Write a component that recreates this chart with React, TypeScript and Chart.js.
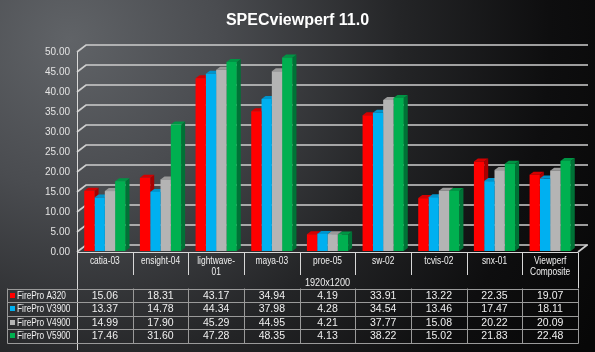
import React, { useEffect, useRef } from "react";
import { Chart, registerables } from "chart.js";

Chart.register(...registerables);

const TITLE = "SPECviewperf 11.0";
const AXIS_TITLE = "1920x1200";
const categories: (string | string[])[] = [
  "catia-03",
  "ensight-04",
  ["lightwave-", "01"],
  "maya-03",
  "proe-05",
  "sw-02",
  "tcvis-02",
  "snx-01",
  ["Viewperf", "Composite"],
];
const seriesNames = ["FirePro A320", "FirePro V3900", "FirePro V4900", "FirePro V5900"];
const a320 = [15.06, 18.31, 43.17, 34.94, 4.19, 33.91, 13.22, 22.35, 19.07];
const v3900 = [13.37, 14.78, 44.34, 37.98, 4.28, 34.54, 13.46, 17.47, 18.11];
const v4900 = [14.99, 17.9, 45.29, 44.95, 4.21, 37.77, 15.08, 20.22, 20.09];
const v5900 = [17.46, 31.6, 47.28, 48.35, 4.13, 38.22, 15.02, 21.83, 22.48];
const yMin = 0;
const yMax = 50;
const yStep = 5;

const seriesData = [a320, v3900, v4900, v5900];
const frontColors = ["#ff0000", "#00b0f0", "#b4b4b4", "#00b050"];
const sideColors = ["#a80000", "#0078a8", "#7c7c7c", "#007236"];
const topColors = ["#d40000", "#0094cc", "#9a9a9a", "#009444"];

const REG = "'Liberation Sans', Arial, sans-serif";

const DEPTH_X = 9;
const DEPTH_Y = 7;
const BAR_DX = 4;
const BAR_DY = 3;

function narrowText(ctx: CanvasRenderingContext2D, s: string, x: number, y: number, f: number) {
  const w = ctx.measureText(s).width;
  ctx.fillText(s, x, y, w * f);
}

const customPlugin = {
  id: "excel3d",
  beforeDraw(chart: any) {
    const { ctx, width, height } = chart;
    ctx.save();
    const g = ctx.createRadialGradient(70, 40, 0, 70, 40, 600);
    g.addColorStop(0, "#606367");
    g.addColorStop(0.25, "#4a4c50");
    g.addColorStop(0.55, "#242527");
    g.addColorStop(0.8, "#0e0e0f");
    g.addColorStop(1, "#070707");
    ctx.fillStyle = g;
    ctx.fillRect(0, 0, width, height);
    ctx.fillStyle = "#ffffff";
    ctx.font = `bold 16px ${REG}`;
    ctx.textAlign = "center";
    ctx.textBaseline = "middle";
    ctx.fillText(TITLE, width / 2, 21);
    ctx.restore();
  },
  beforeDatasetsDraw(chart: any) {
    const { ctx, chartArea } = chart;
    const y = chart.scales.y;
    const left = chartArea.left;
    const right = chartArea.right;
    ctx.save();
    ctx.strokeStyle = "#cdcdcd";
    ctx.lineWidth = 1.7;
    y.ticks.forEach((t: any) => {
      const yf = y.getPixelForValue(t.value) + 1;
      ctx.beginPath();
      ctx.moveTo(left, yf);
      ctx.lineTo(left + DEPTH_X, yf - DEPTH_Y);
      ctx.lineTo(right + DEPTH_X + 1, yf - DEPTH_Y);
      ctx.stroke();
    });
    const y0 = y.getPixelForValue(yMin) + 1;
    ctx.beginPath();
    ctx.moveTo(right, y0);
    ctx.lineTo(right + DEPTH_X, y0 - DEPTH_Y);
    ctx.stroke();
    ctx.lineWidth = 1;
    ctx.strokeStyle = "#d8d8d8";
    ctx.beginPath();
    ctx.moveTo(left + 0.5, y.getPixelForValue(yMax) + 1);
    ctx.lineTo(left + 0.5, 350);
    ctx.stroke();

    chart.data.datasets.forEach((ds: any, di: number) => {
      const meta = chart.getDatasetMeta(di);
      meta.data.forEach((el: any) => {
        const p = el.getProps(["x", "y", "base", "width"], true);
        const l = p.x - p.width / 2;
        const r = p.x + p.width / 2;
        ctx.fillStyle = sideColors[di];
        ctx.beginPath();
        ctx.moveTo(r, p.y);
        ctx.lineTo(r + BAR_DX, p.y - BAR_DY);
        ctx.lineTo(r + BAR_DX, p.base - BAR_DY);
        ctx.lineTo(r, p.base);
        ctx.closePath();
        ctx.fill();
        ctx.fillStyle = topColors[di];
        ctx.beginPath();
        ctx.moveTo(l, p.y);
        ctx.lineTo(l + BAR_DX, p.y - BAR_DY);
        ctx.lineTo(r + BAR_DX, p.y - BAR_DY);
        ctx.lineTo(r, p.y);
        ctx.closePath();
        ctx.fill();
      });
    });
    ctx.restore();
  },
  afterDatasetsDraw(chart: any) {
    const { ctx, chartArea } = chart;
    const y = chart.scales.y;
    const x = chart.scales.x;
    const left = chartArea.left;
    const right = chartArea.right;
    const n = categories.length;
    const colW = (right - left) / n;
    ctx.save();

    ctx.fillStyle = "#e4e4e4";
    ctx.font = `10px ${REG}`;
    ctx.textAlign = "right";
    ctx.textBaseline = "middle";
    y.ticks.forEach((t: any) => {
      ctx.fillText(t.value.toFixed(2), left - 7, y.getPixelForValue(t.value) + 1);
    });

    const hTop = Math.round(y.getPixelForValue(yMin)) + 1.5;
    const hBottom = 275;
    ctx.strokeStyle = "#d8d8d8";
    ctx.lineWidth = 1;
    ctx.beginPath();
    ctx.moveTo(left, hTop);
    ctx.lineTo(right, hTop);
    ctx.stroke();
    for (let i = 1; i < n; i++) {
      const bx = Math.round(left + i * colW) + 0.5;
      ctx.beginPath();
      ctx.moveTo(bx, hTop);
      ctx.lineTo(bx, hBottom);
      ctx.stroke();
    }
    ctx.beginPath();
    ctx.moveTo(Math.round(right) + 0.5, hTop);
    ctx.lineTo(Math.round(right) + 0.5, 288);
    ctx.stroke();

    ctx.fillStyle = "#f0f0f0";
    ctx.font = `10.5px ${REG}`;
    ctx.textAlign = "center";
    ctx.textBaseline = "middle";
    categories.forEach((c, i) => {
      const cx = x.getPixelForValue(i);
      const lines = Array.isArray(c) ? c : [c];
      lines.forEach((ln, k) => narrowText(ctx, ln, cx, 261 + k * 11.5, 0.8));
    });
    narrowText(ctx, AXIS_TITLE, (left + right) / 2, 283, 0.87);

    const rTop = 288.5;
    const rH = 13.5;
    const lLeft = 7.5;
    ctx.strokeStyle = "#9a9a9a";
    for (let r = 0; r <= seriesNames.length; r++) {
      const yy = Math.round(rTop + r * rH) + 0.5;
      ctx.beginPath();
      ctx.moveTo(lLeft, yy);
      ctx.lineTo(Math.round(right) + 0.5, yy);
      ctx.stroke();
    }
    const tBottom = Math.round(rTop + seriesNames.length * rH) + 0.5;
    const vlines = [lLeft];
    for (let i = 1; i <= n; i++) vlines.push(Math.round(left + i * colW) + 0.5);
    vlines.forEach((vx) => {
      ctx.beginPath();
      ctx.moveTo(vx, rTop);
      ctx.lineTo(vx, tBottom);
      ctx.stroke();
    });

    seriesNames.forEach((name, r) => {
      const cy = rTop + r * rH + rH / 2 + 0.5;
      ctx.fillStyle = frontColors[r];
      ctx.fillRect(10, Math.round(cy) - 3, 5, 5);
      ctx.fillStyle = "#f0f0f0";
      ctx.font = `10.5px ${REG}`;
      ctx.textAlign = "left";
      narrowText(ctx, name, 17, cy, 0.79);
      ctx.font = `10.5px ${REG}`;
      ctx.textAlign = "center";
      seriesData[r].forEach((v, i) => {
        ctx.fillText(v.toFixed(2), left + (i + 0.5) * colW, cy);
      });
    });
    ctx.restore();
  },
};

export default function App() {
  const ref = useRef<HTMLCanvasElement | null>(null);
  useEffect(() => {
    if (!ref.current) return;
    const chart = new Chart(ref.current, {
      type: "bar",
      data: {
        labels: categories as any,
        datasets: seriesNames.map((name, i) => ({
          label: name,
          data: seriesData[i],
          backgroundColor: frontColors[i],
          borderWidth: 0,
          categoryPercentage: 0.74,
          barPercentage: 1,
        })),
      },
      options: {
        responsive: false,
        animation: false,
        devicePixelRatio: 1,
        layout: { padding: { left: 77, right: 17, top: 51, bottom: 101 } },
        plugins: {
          legend: { display: false },
          title: { display: false },
          tooltip: { enabled: false },
        },
        scales: {
          x: { display: false, offset: true },
          y: { display: false, min: yMin, max: yMax, ticks: { stepSize: yStep } },
        },
      },
      plugins: [customPlugin],
    });
    return () => chart.destroy();
  }, []);
  return (
    <div style={{ position: "fixed", left: 0, top: 0, width: 595, height: 352, background: "#000" }}>
      <canvas ref={ref} width={595} height={352} style={{ display: "block" }} />
    </div>
  );
}
